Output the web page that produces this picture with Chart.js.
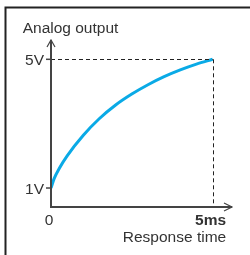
<!DOCTYPE html>
<html>
<head>
<meta charset="utf-8">
<script src="https://cdn.jsdelivr.net/npm/chart.js@4"></script>
<style>
  html, body { margin: 0; padding: 0; background: #fff; }
  canvas { display: block; }
</style>
</head>
<body>
<canvas id="grafico" width="250" height="255"></canvas>
<script>
// curve (time in ms, output in V)
const tempos = [0, 0.1, 0.25, 0.5, 1, 1.5, 2, 2.5, 3, 3.5, 4, 4.5, 5];
const tensoes = [1, 1.3, 1.6, 2.0, 2.64, 3.16, 3.58, 3.92, 4.21, 4.46, 4.67, 4.85, 5];

const ticksY = [1, 5];
const rotulosY = ['1V', '5V'];
const ticksX = [0, 5];
const rotulosX = ['0', '5ms'];

const tituloY = 'Analog output';
const tituloX = 'Response time';

const fonte = '"Liberation Sans", Arial, sans-serif';
const corEixo = '#444';

const eixosPlugin = {
    id: 'eixos',
    afterDatasetsDraw(chart) {
        const ctx = chart.ctx;
        const sx = chart.scales.x, sy = chart.scales.y;
        const area = chart.chartArea;
        const x0 = sx.getPixelForValue(0);
        const yBase = area.bottom;
        const xFim = sx.getPixelForValue(5);
        const yFim = sy.getPixelForValue(5);

        ctx.save();

        // moldura
        ctx.strokeStyle = '#222';
        ctx.lineWidth = 2;
        ctx.beginPath();
        ctx.moveTo(5.5, 255);
        ctx.lineTo(5.5, 7.5);
        ctx.lineTo(250, 7.5);
        ctx.stroke();

        // linhas tracejadas
        ctx.strokeStyle = '#222';
        ctx.lineWidth = 1;
        ctx.setLineDash([4, 3]);
        ctx.beginPath();
        ctx.moveTo(x0, Math.round(yFim) + 0.5);
        ctx.lineTo(xFim, Math.round(yFim) + 0.5);
        ctx.moveTo(Math.round(xFim) + 0.5, yFim);
        ctx.lineTo(Math.round(xFim) + 0.5, yBase);
        ctx.stroke();
        ctx.setLineDash([]);

        // eixos
        ctx.strokeStyle = corEixo;
        ctx.lineWidth = 2;
        ctx.beginPath();
        ctx.moveTo(x0, area.top);
        ctx.lineTo(x0, yBase);
        ctx.lineTo(area.right, yBase);
        ctx.stroke();

        // setas
        ctx.lineWidth = 1.2;
        ctx.beginPath();
        ctx.moveTo(x0 - 4, area.top + 7);
        ctx.lineTo(x0, area.top);
        ctx.lineTo(x0 + 4, area.top + 7);
        ctx.moveTo(area.right - 8, yBase - 4);
        ctx.lineTo(area.right, yBase);
        ctx.lineTo(area.right - 8, yBase + 4);
        ctx.stroke();

        // marcas e rotulos Y
        ctx.fillStyle = '#333';
        ctx.font = '15.5px ' + fonte;
        ctx.textAlign = 'right';
        ctx.textBaseline = 'alphabetic';
        ticksY.forEach((v, i) => {
            const py = sy.getPixelForValue(v);
            ctx.lineWidth = 1.5;
            ctx.beginPath();
            ctx.moveTo(x0 - 5, py);
            ctx.lineTo(x0, py);
            ctx.stroke();
            ctx.fillText(rotulosY[i], x0 - 7, py + 6);
        });

        // rotulos X
        ctx.textAlign = 'center';
        ticksX.forEach((v, i) => {
            const px = sx.getPixelForValue(v);
            ctx.font = (i === ticksX.length - 1 ? 'bold ' : '') + '15.5px ' + fonte;
            ctx.fillText(rotulosX[i], px - 2, 225);
        });

        ctx.font = '15.5px ' + fonte;
        ctx.fillText(tituloY, 70.5, 33);
        ctx.fillText(tituloX, 174.5, 242);

        ctx.restore();
    }
};

new Chart(document.getElementById('grafico'), {
    type: 'line',
    data: {
        datasets: [{
            data: tempos.map((t, i) => ({ x: t, y: tensoes[i] })),
            borderColor: '#0AAAE6',
            borderWidth: 3,
            pointRadius: 0,
            cubicInterpolationMode: 'monotone',
            fill: false
        }]
    },
    options: {
        responsive: false,
        animation: false,
        layout: { padding: { left: 51, right: 18, top: 40, bottom: 48 } },
        plugins: { legend: { display: false }, tooltip: { enabled: false } },
        scales: {
            x: { type: 'linear', min: 0, max: 5.6, display: false },
            y: { type: 'linear', min: 0.41, max: 5.6, display: false }
        }
    },
    plugins: [eixosPlugin]
});
</script>
</body>
</html>
